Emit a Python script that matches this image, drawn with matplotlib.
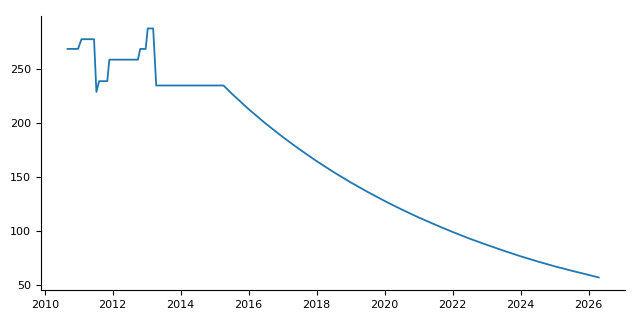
import matplotlib
matplotlib.use('Agg')
import matplotlib.pyplot as plt

# values (decimal years)
years = [2010.67, 2010.98, 2011.08, 2011.45, 2011.52, 2011.60, 2011.84, 2011.90,
         2012.74, 2012.81, 2012.97, 2013.03, 2013.19, 2013.28, 2015.26,
         2015.5, 2016.0, 2016.5, 2017.0, 2017.5, 2018.0, 2018.5, 2019.0, 2019.5,
         2020.0, 2020.5, 2021.0, 2021.5, 2022.0, 2022.5, 2023.0, 2023.5,
         2024.0, 2024.5, 2025.0, 2025.5, 2026.0, 2026.3]
values = [269, 269, 278, 278, 229, 239, 239, 259,
          259, 269, 269, 288, 288, 235, 235,
          227.5, 213.0, 199.6, 187.2, 175.6, 164.7, 154.5, 145.0, 136.1,
          127.7, 119.8, 112.4, 105.5, 98.9, 92.7, 87.0, 81.5,
          76.3, 71.5, 67.0, 62.9, 59.0, 56.6]

fig = plt.figure(figsize=(6.4, 3.2), dpi=100)
ax = fig.add_axes([0.064, 0.094, 0.913, 0.856])
ax.plot(years, values, color='#1f77b4', linewidth=1.3)

ax.spines['top'].set_visible(False)
ax.spines['right'].set_visible(False)
ax.set_xticks(range(2010, 2027, 2))
ax.set_yticks([50, 100, 150, 200, 250])
ax.tick_params(labelsize=8)

fig.savefig('out.png', dpi=100)
